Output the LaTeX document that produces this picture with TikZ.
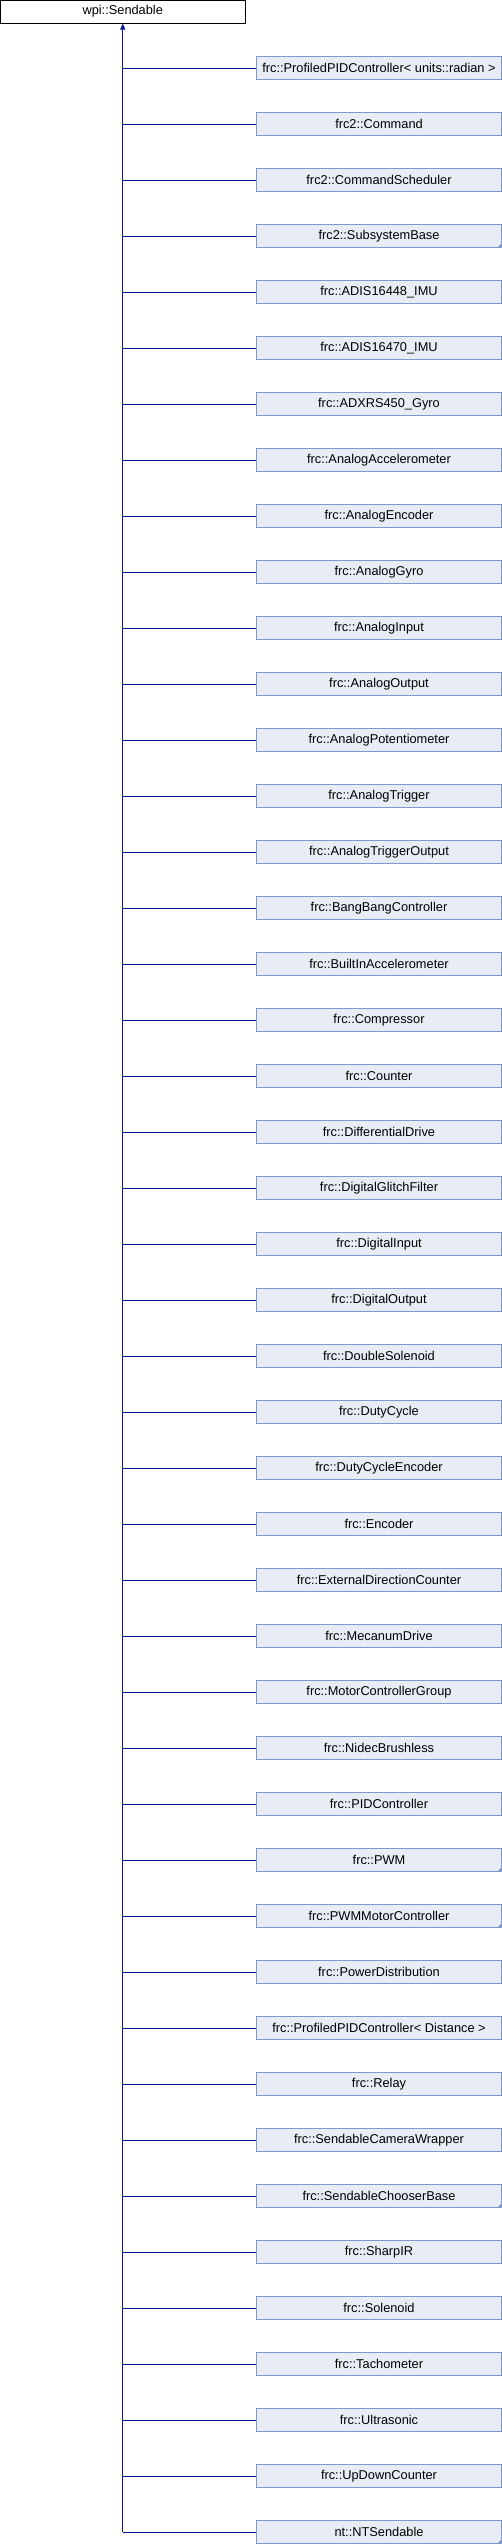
\documentclass[tikz,border=0pt]{standalone}
\usepackage{fontspec}
\setmainfont{Liberation Sans}
\usetikzlibrary{arrows.meta}
\definecolor{boxfill}{HTML}{E8ECF5}
\definecolor{boxline}{HTML}{7F98D0}
\definecolor{edgecol}{HTML}{0E1496}
\tikzset{
  basebox/.style={draw=black, fill=white, line width=1pt, minimum width=245pt, minimum height=23pt, inner sep=0pt, font=\fontsize{12.8}{15}\selectfont},
  childbox/.style={draw=boxline, fill=boxfill, line width=1pt, minimum width=245pt, minimum height=22.5pt, inner sep=0pt, font=\fontsize{12.8}{15}\selectfont},
  edge/.style={draw=edgecol, line width=1pt},
  more/.style={fill=boxline}
}
\begin{document}
\begin{tikzpicture}[x=1pt,y=-1pt]
\useasboundingbox (0,0) rectangle (502,2544);
\node[basebox] (top) at (122.75,11.5) {wpi::Sendable};
\foreach \i/\t in {
 0/{frc::ProfiledPIDController< units::radian >},
 1/{frc2::Command},
 2/{frc2::CommandScheduler},
 3/{frc2::SubsystemBase},
 4/{frc::ADIS16448\_IMU},
 5/{frc::ADIS16470\_IMU},
 6/{frc::ADXRS450\_Gyro},
 7/{frc::AnalogAccelerometer},
 8/{frc::AnalogEncoder},
 9/{frc::AnalogGyro},
 10/{frc::AnalogInput},
 11/{frc::AnalogOutput},
 12/{frc::AnalogPotentiometer},
 13/{frc::AnalogTrigger},
 14/{frc::AnalogTriggerOutput},
 15/{frc::BangBangController},
 16/{frc::BuiltInAccelerometer},
 17/{frc::Compressor},
 18/{frc::Counter},
 19/{frc::DifferentialDrive},
 20/{frc::DigitalGlitchFilter},
 21/{frc::DigitalInput},
 22/{frc::DigitalOutput},
 23/{frc::DoubleSolenoid},
 24/{frc::DutyCycle},
 25/{frc::DutyCycleEncoder},
 26/{frc::Encoder},
 27/{frc::ExternalDirectionCounter},
 28/{frc::MecanumDrive},
 29/{frc::MotorControllerGroup},
 30/{frc::NidecBrushless},
 31/{frc::PIDController},
 32/{frc::PWM},
 33/{frc::PWMMotorController},
 34/{frc::PowerDistribution},
 35/{frc::ProfiledPIDController< Distance >},
 36/{frc::Relay},
 37/{frc::SendableCameraWrapper},
 38/{frc::SendableChooserBase},
 39/{frc::SharpIR},
 40/{frc::Solenoid},
 41/{frc::Tachometer},
 42/{frc::Ultrasonic},
 43/{frc::UpDownCounter},
 44/{nt::NTSendable}} {
  \node[childbox] (c\i) at (379,68+56*\i) {\t};
  \draw[edge] (c\i.west) -- (c\i.west -| top.south);
}
\foreach \i in {3,32,33,38,44} {
  \fill[more] ([xshift=-5pt]c\i.south east) -- (c\i.south east) -- ([yshift=5pt]c\i.south east) -- cycle;
}
\coordinate (trunkend) at (c44.west -| top.south);
\draw[edge, -{Triangle[width=5pt,length=6pt]}] (trunkend) -- (top.south);
\end{tikzpicture}
\end{document}
